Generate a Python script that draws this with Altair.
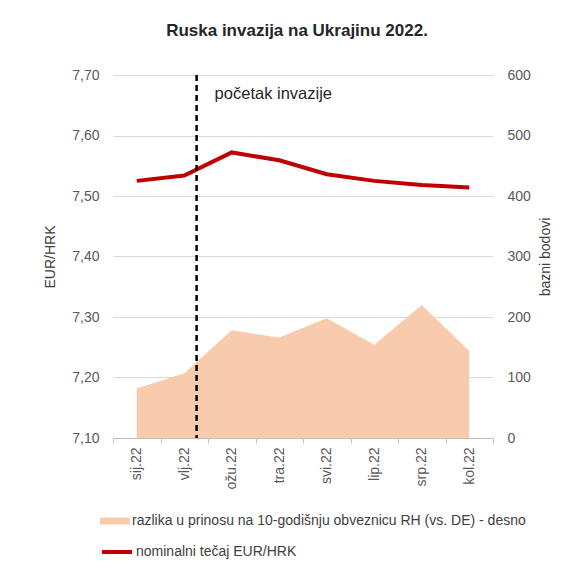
import altair as alt
import pandas as pd

months = ["sij.22", "vlj.22", "ožu.22", "tra.22", "svi.22", "lip.22", "srp.22", "kol.22"]
eur_hrk = [7.525, 7.534, 7.572, 7.559, 7.536, 7.525, 7.518, 7.514]
spread_bp = [82, 107, 178, 166, 198, 154, 220, 144]
invasion_pos = [1.26]
invasion_text = ["početak invazije"]

area_name = "razlika u prinosu na 10-godišnju obveznicu RH (vs. DE) - desno"
line_name = "nominalni tečaj EUR/HRK"

df = pd.DataFrame({
    "mjesec": months,
    "tecaj": eur_hrk,
    "spread": spread_bp,
    "s_area": [area_name] * len(months),
    "s_line": [line_name] * len(months),
})
df_inv = pd.DataFrame({"pos": invasion_pos, "label": invasion_text})

FONT = "Liberation Sans"
W, H = 380, 363

x_band = alt.Scale(type="band", paddingInner=0, paddingOuter=0)

area = alt.Chart(df).mark_area(color="#f8cbad", opacity=1).encode(
    x=alt.X("mjesec:N", sort=months, scale=x_band, bandPosition=0.5,
            axis=alt.Axis(title=None, labelAngle=-90, tickBand="extent",
                          labelFontSize=14, labelColor="#595959",
                          domainColor="#bfbfbf", tickColor="#bfbfbf",
                          tickSize=5, labelPadding=4, grid=False)),
    y=alt.Y("spread:Q", scale=alt.Scale(domain=[0, 600], nice=False),
            axis=alt.Axis(orient="right", values=[0, 100, 200, 300, 400, 500, 600],
                          title="bazni bodovi", titleFontSize=14, titleFontWeight="normal",
                          titleColor="#404040", titlePadding=8, titleAngle=270,
                          titleBaseline="top",
                          labelFontSize=14, labelColor="#595959", labelPadding=14,
                          domain=False, ticks=False, grid=False)),
    fill=alt.Fill("s_area:N", scale=alt.Scale(range=["#f8cbad"]),
                  legend=alt.Legend(title=None, orient="none", legendX=-13, legendY=431,
                                    symbolType="M-1,-0.23H1V0.23H-1Z", symbolSize=900,
                                    symbolStrokeWidth=0, symbolOpacity=1,
                                    labelFontSize=14, labelColor="#404040", labelOffset=2,
                                    labelLimit=600, padding=0)),
)

line = alt.Chart(df).mark_line(color="#c00000", strokeWidth=4).encode(
    x=alt.X("mjesec:N", sort=months, scale=x_band, bandPosition=0.5, axis=None),
    y=alt.Y("tecaj:Q", scale=alt.Scale(domain=[7.1, 7.7], nice=False),
            axis=alt.Axis(orient="left", values=[7.1, 7.2, 7.3, 7.4, 7.5, 7.6, 7.7],
                          labelExpr="replace(format(datum.value, '.2f'), '.', ',')",
                          title="EUR/HRK", titleFontSize=14, titleFontWeight="normal",
                          titleColor="#404040", titlePadding=14,
                          labelFontSize=14, labelColor="#595959", labelPadding=14,
                          domain=False, ticks=False, grid=True, gridColor="#d9d9d9")),
    stroke=alt.Stroke("s_line:N", scale=alt.Scale(range=["#c00000"]),
                      legend=alt.Legend(title=None, orient="none", legendX=-13, legendY=460,
                                        symbolType="stroke", symbolSize=900,
                                        symbolStrokeWidth=4, labelFontSize=14,
                                        labelColor="#404040", labelOffset=2,
                                        labelLimit=600, padding=0)),
)

rule = alt.Chart(df_inv).mark_rule(color="black", strokeWidth=2.5, strokeDash=[6, 4]).encode(
    x=alt.X("pos:Q", scale=alt.Scale(domain=[-0.5, 7.5], nice=False, zero=False), axis=None),
    y=alt.value(0),
    y2=alt.value(H),
)

label = alt.Chart(df_inv).mark_text(align="left", baseline="middle", dx=18,
                                    fontSize=16.5, color="#262626").encode(
    x=alt.X("pos:Q", scale=alt.Scale(domain=[-0.5, 7.5], nice=False, zero=False), axis=None),
    y=alt.value(19),
    text="label:N",
)

chart = alt.layer(area, line, rule, label).resolve_scale(
    y="independent", x="independent", fill="independent", stroke="independent"
).properties(
    width=W, height=H,
    title=alt.Title("Ruska invazija na Ukrajinu 2022.", fontSize=17, fontWeight="bold",
                    color="#262626", offset=28, anchor="middle", dx=-6),
    padding={"left": 105, "top": 67, "right": 66, "bottom": 123},
    autosize=alt.AutoSizeParams(type="none"),
).configure(font=FONT).configure_view(stroke=None)

chart.save("out.html", embed_options={"renderer": "svg", "actions": False})
